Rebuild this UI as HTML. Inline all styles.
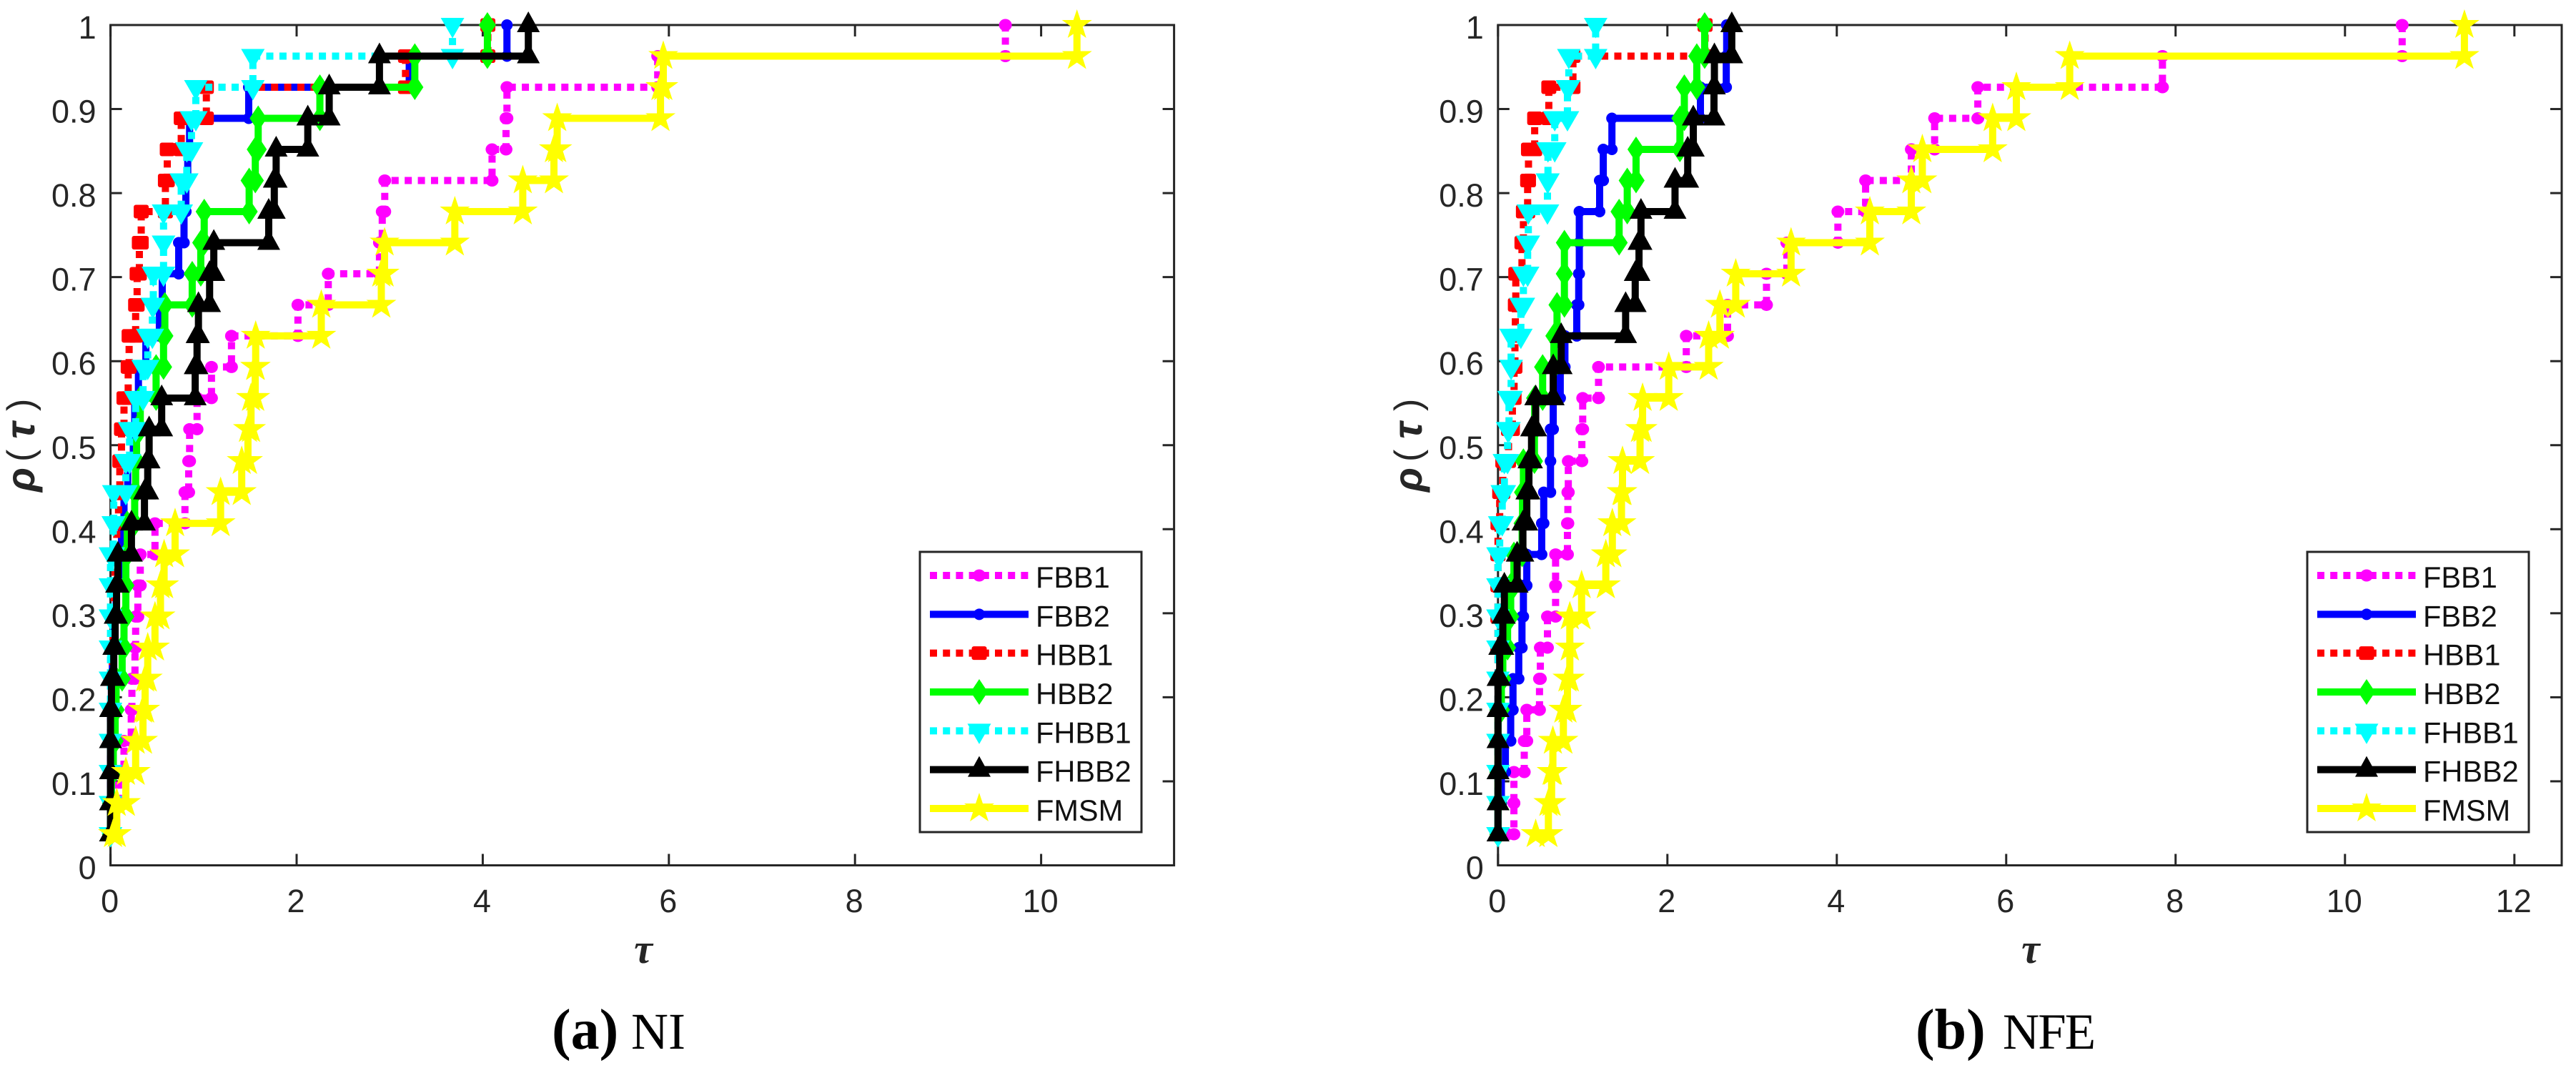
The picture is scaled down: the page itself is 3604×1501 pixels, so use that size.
<!DOCTYPE html>
<html lang="en">
<head>
<meta charset="utf-8">
<title>Performance profiles: NI and NFE</title>
<style>
html,body{margin:0;padding:0;background:#fff;width:3604px;height:1501px;overflow:hidden}
svg{display:block;position:absolute;left:0;top:0}
text{font-family:"Liberation Sans",sans-serif}
.serif{font-family:"Liberation Serif",serif}
</style>
</head>
<body>
<svg id="figure" xmlns="http://www.w3.org/2000/svg" width="3604" height="1501" viewBox="0 0 3604 1501">
  <rect x="0" y="0" width="3604" height="1501" fill="#ffffff"/>
  <g id="panel-a"></g>
  <g id="panel-b"></g>
  <text class="serif" y="1467" fill="#000"><tspan x="772" font-size="80" font-weight="bold">(a)</tspan><tspan x="883" font-size="72">NI</tspan></text>
  <text class="serif" y="1467" fill="#000"><tspan x="2680" font-size="80" font-weight="bold">(b)</tspan><tspan x="2802" font-size="71" letter-spacing="-2">NFE</tspan></text>
</svg>
<script>
// Shared chart values
const rhoLevels = [0.037,0.074,0.111,0.148,0.185,0.222,0.259,0.296,0.333,0.370,0.407,0.444,0.481,0.519,0.556,0.593,0.630,0.667,0.704,0.741,0.778,0.815,0.852,0.889,0.926,0.963,1];
const yTickValues = [0,0.1,0.2,0.3,0.4,0.5,0.6,0.7,0.8,0.9,1];
const yTickLabels = ["0","0.1","0.2","0.3","0.4","0.5","0.6","0.7","0.8","0.9","1"];
const xTickValuesA = [0,2,4,6,8,10];
const xTickLabelsA = ["0","2","4","6","8","10"];
const xTickValuesB = [0,2,4,6,8,10,12];
const xTickLabelsB = ["0","2","4","6","8","10","12"];
const seriesNames = ["FBB1","FBB2","HBB1","HBB2","FHBB1","FHBB2","FMSM"];

// Panel (a) NI: tau at which each solver reaches each rho level
const niFBB1 = [0.01,0.067,0.086,0.145,0.223,0.23,0.263,0.27,0.294,0.32,0.478,0.80,0.84,0.85,0.93,1.085,1.30,2.014,2.34,2.89,2.92,2.947,4.10,4.25,4.26,5.88,9.616];
const niFBB2 = [0,0,0,0,0,0.01,0.02,0.04,0.06,0.09,0.118,0.145,0.185,0.245,0.26,0.30,0.38,0.525,0.556,0.733,0.79,0.81,0.83,0.85,1.485,3.21,4.26];
const niHBB1 = [0,0,0,0,0,0.01,0.02,0.03,0.04,0.05,0.067,0.086,0.10,0.118,0.145,0.19,0.20,0.27,0.286,0.31,0.33,0.59,0.61,0.76,1.03,3.17,4.055];
const niHBB2 = [0,0,0.01,0.03,0.05,0.06,0.125,0.145,0.165,0.165,0.18,0.26,0.27,0.28,0.32,0.49,0.57,0.584,0.878,0.97,1.007,1.49,1.556,1.587,2.25,3.27,4.05];
const niFHBB1 = [0,0,0,0,0,0,0,0,0,0,0.03,0.035,0.165,0.205,0.27,0.35,0.40,0.45,0.46,0.57,0.57,0.76,0.82,0.87,0.917,1.53,3.675];
const niFHBB2 = [0,0,0,0,0,0.01,0.035,0.05,0.065,0.08,0.225,0.365,0.40,0.415,0.55,0.91,0.93,0.945,1.065,1.11,1.70,1.76,1.78,2.12,2.35,2.89,4.49];
const niFMSM = [0.027,0.067,0.165,0.27,0.349,0.372,0.40,0.478,0.537,0.576,0.694,1.183,1.41,1.477,1.51,1.555,1.56,2.265,2.91,2.945,3.70,4.43,4.765,4.80,5.91,5.94,10.385];

// Panel (b) NFE: tau at which each solver reaches each rho level
const nfeFBB1 = [0.113,0.188,0.188,0.31,0.34,0.49,0.50,0.584,0.68,0.68,0.82,0.825,0.83,0.99,1.0,1.187,2.223,2.71,3.17,3.41,4.013,4.34,4.88,5.155,5.665,7.845,10.675];
const nfeFBB2 = [0,0,0.04,0.087,0.15,0.177,0.245,0.283,0.30,0.34,0.516,0.54,0.62,0.62,0.652,0.735,0.79,0.93,0.953,0.96,0.96,1.2,1.243,1.345,2.39,2.695,2.70];
const nfeHBB1 = [0,0,0,0,0,0,0,0,0,0,0,0.02,0.057,0.124,0.17,0.19,0.2,0.205,0.21,0.283,0.30,0.35,0.36,0.433,0.60,0.885,2.445];
const nfeHBB2 = [0,0,0,0,0,0.04,0.057,0.113,0.15,0.188,0.285,0.29,0.30,0.43,0.433,0.527,0.66,0.697,0.784,0.784,1.43,1.526,1.63,2.148,2.2,2.347,2.44];
const nfeFHBB1 = [0,0,0,0,0,0,0,0,0,0,0.02,0.05,0.075,0.113,0.13,0.155,0.155,0.27,0.30,0.35,0.358,0.584,0.59,0.67,0.82,0.836,1.153];
const nfeFHBB2 = [0,0,0,0,0,0,0.02,0.057,0.075,0.226,0.294,0.34,0.365,0.396,0.445,0.652,0.746,1.507,1.62,1.665,1.688,2.09,2.24,2.306,2.55,2.555,2.76];
const nfeFMSM = [0.445,0.595,0.633,0.648,0.772,0.82,0.848,0.848,0.987,1.273,1.35,1.458,1.47,1.677,1.707,2.016,2.487,2.62,2.807,3.46,4.39,4.88,5.01,5.84,6.12,6.75,11.41];

const niSeries = [niFBB1,niFBB2,niHBB1,niHBB2,niFHBB1,niFHBB2,niFMSM];
const nfeSeries = [nfeFBB1,nfeFBB2,nfeHBB1,nfeHBB2,nfeFHBB1,nfeFHBB2,nfeFMSM];

const NS = "http://www.w3.org/2000/svg";
const AXIS = "#262626";
const styles = [
  {color:"#ff00ff", dash:true,  marker:"dot"},
  {color:"#0000ff", dash:false, marker:"dot2"},
  {color:"#ff0000", dash:true,  marker:"block"},
  {color:"#00ff00", dash:false, marker:"diamond"},
  {color:"#00ffff", dash:true,  marker:"down"},
  {color:"#000000", dash:false, marker:"up"},
  {color:"#ffff00", dash:false, marker:"star"}
];

function make(tag, attrs, parent){
  const el = document.createElementNS(NS, tag);
  for (const k in attrs) el.setAttribute(k, attrs[k]);
  if (parent) parent.appendChild(el);
  return el;
}

function drawMarker(parent, kind, x, y, color){
  let el;
  if (kind === "dot") {
    el = make("ellipse", {cx:x, cy:y, rx:9, ry:8.5, fill:color}, parent);
  } else if (kind === "dot2") {
    el = make("ellipse", {cx:x, cy:y, rx:8, ry:8, fill:color}, parent);
  } else if (kind === "block") {
    el = make("rect", {x:x-10.5, y:y-9.5, width:21, height:19, rx:3, fill:color}, parent);
  } else if (kind === "diamond") {
    el = make("polygon", {points:[[x,y-18],[x+12,y],[x,y+18],[x-12,y]].join(" "), fill:color}, parent);
  } else if (kind === "down") {
    el = make("polygon", {points:[[x-16.5,y-10],[x+16.5,y-10],[x,y+18.5]].join(" "), fill:color}, parent);
  } else if (kind === "up") {
    el = make("polygon", {points:[[x-16,y+10],[x+16,y+10],[x,y-19]].join(" "), fill:color}, parent);
  } else {
    const p = [[0,-22],[5,-7],[21,-7],[8,2.5],[13,18],[0,9],[-13,18],[-8,2.5],[-21,-7],[-5,-7]];
    el = make("polygon", {points:p.map(q => [x+q[0],y+q[1]]).join(" "), fill:color}, parent);
  }
  
  
}

function drawPanel(root, cfg){
  const xScale = v => cfg.left + v * cfg.pxPerUnit;
  const yScale = v => cfg.bottom - v * (cfg.bottom - cfg.top);

  const box = make("rect", {x:cfg.left, y:cfg.top, width:cfg.right-cfg.left, height:cfg.bottom-cfg.top, fill:"none", stroke:AXIS, "stroke-width":3}, root);
  
  

  cfg.yValues.forEach((v, i) => {
    const y = yScale(v);
    const tl = make("line", {x1:cfg.left, x2:cfg.left+16, y1:y, y2:y, stroke:AXIS, "stroke-width":3}, root);
    
    
    const tr = make("line", {x1:cfg.right-16, x2:cfg.right, y1:y, y2:y, stroke:AXIS, "stroke-width":3}, root);
    
    
    const lb = make("text", {x:cfg.left-20, y:y+19, "text-anchor":"end", "font-size":45, fill:AXIS}, root);
    
    
    lb.textContent = yTickLabels[i];
  });

  cfg.xValues.forEach((v, i) => {
    const x = xScale(v);
    const tb = make("line", {x1:x, x2:x, y1:cfg.bottom-16, y2:cfg.bottom, stroke:AXIS, "stroke-width":3}, root);
    
    
    const tt = make("line", {x1:x, x2:x, y1:cfg.top, y2:cfg.top+16, stroke:AXIS, "stroke-width":3}, root);
    
    
    const lb = make("text", {x:x-1, y:1276, "text-anchor":"middle", "font-size":45, fill:AXIS}, root);
    
    
    lb.textContent = cfg.xLabels[i];
  });

  const xt = make("text", {x:cfg.xTitleX, y:1347, "text-anchor":"middle", "font-size":58, "font-weight":"bold", "font-style":"italic", fill:AXIS, class:"serif"}, root);
  
  
  xt.textContent = "τ";

  const ox = cfg.yTitleOffset;
  const yt = make("g", {fill:AXIS, class:"serif", "font-weight":"bold"}, root);
  
  
  const rho = make("text", {transform:"translate("+(48+ox)+",688) rotate(-90)", "font-size":56, "font-style":"italic"}, yt);
  rho.textContent = "ρ";
  const openParen = make("text", {transform:"translate("+(46+ox)+",646) rotate(-90)", "font-size":52, "font-weight":"normal"}, yt);
  openParen.textContent = "(";
  const tau = make("text", {transform:"translate("+(48+ox)+",614) rotate(-90)", "font-size":58, "font-style":"italic"}, yt);
  tau.textContent = "τ";
  const closeParen = make("text", {transform:"translate("+(46+ox)+",575) rotate(-90)", "font-size":52, "font-weight":"normal"}, yt);
  closeParen.textContent = ")";

  cfg.series.forEach((vals, s) => {
    const st = styles[s];
    const g = make("g", {}, root);
    
    
    const pts = [];
    vals.forEach((v, i) => {
      pts.push([xScale(v), yScale(rhoLevels[i])]);
      if (i < vals.length - 1) pts.push([xScale(vals[i+1]), yScale(rhoLevels[i])]);
    });
    const line = make("polyline", {points:pts.join(" "), fill:"none", stroke:st.color, "stroke-width":10, "stroke-linejoin":"miter"}, g);
    if (st.dash) line.setAttribute("stroke-dasharray", "10 8.4");
    
    
    pts.forEach(p => drawMarker(g, st.marker, p[0], p[1], st.color));
  });

  const lg = make("g", {}, root);
  
  
  const dx = cfg.legendDx;
  const frame = make("rect", {x:1287+dx, y:772, width:310, height:392, fill:"#ffffff", stroke:AXIS, "stroke-width":3}, lg);
  
  
  seriesNames.forEach((name, s) => {
    const st = styles[s];
    const y = 805 + s * 54.33;
    const sw = make("line", {x1:1301+dx, x2:1439+dx, y1:y, y2:y, stroke:st.color, "stroke-width":10}, lg);
    if (st.dash) sw.setAttribute("stroke-dasharray", "10 8.2");
    
    
    drawMarker(lg, st.marker, 1370+dx, y, st.color);
    const t = make("text", {x:1449+dx, y:y+17, "font-size":41.5, fill:"#111"}, lg);
    
    
    t.textContent = name;
  });
}

drawPanel(document.getElementById("panel-a"), {
  left:154.6, right:1642.6, top:35, bottom:1210.5, pxPerUnit:130.2,
  series:niSeries, xValues:xTickValuesA, xLabels:xTickLabelsA, yValues:yTickValues,
  legendDx:0, xTitleX:900, yTitleOffset:0
});
drawPanel(document.getElementById("panel-b"), {
  left:2095.8, right:3584, top:35, bottom:1210.5, pxPerUnit:118.5,
  series:nfeSeries, xValues:xTickValuesB, xLabels:xTickLabelsB, yValues:yTickValues,
  legendDx:1941, xTitleX:2841, yTitleOffset:1941
});
</script>
</body>
</html>
